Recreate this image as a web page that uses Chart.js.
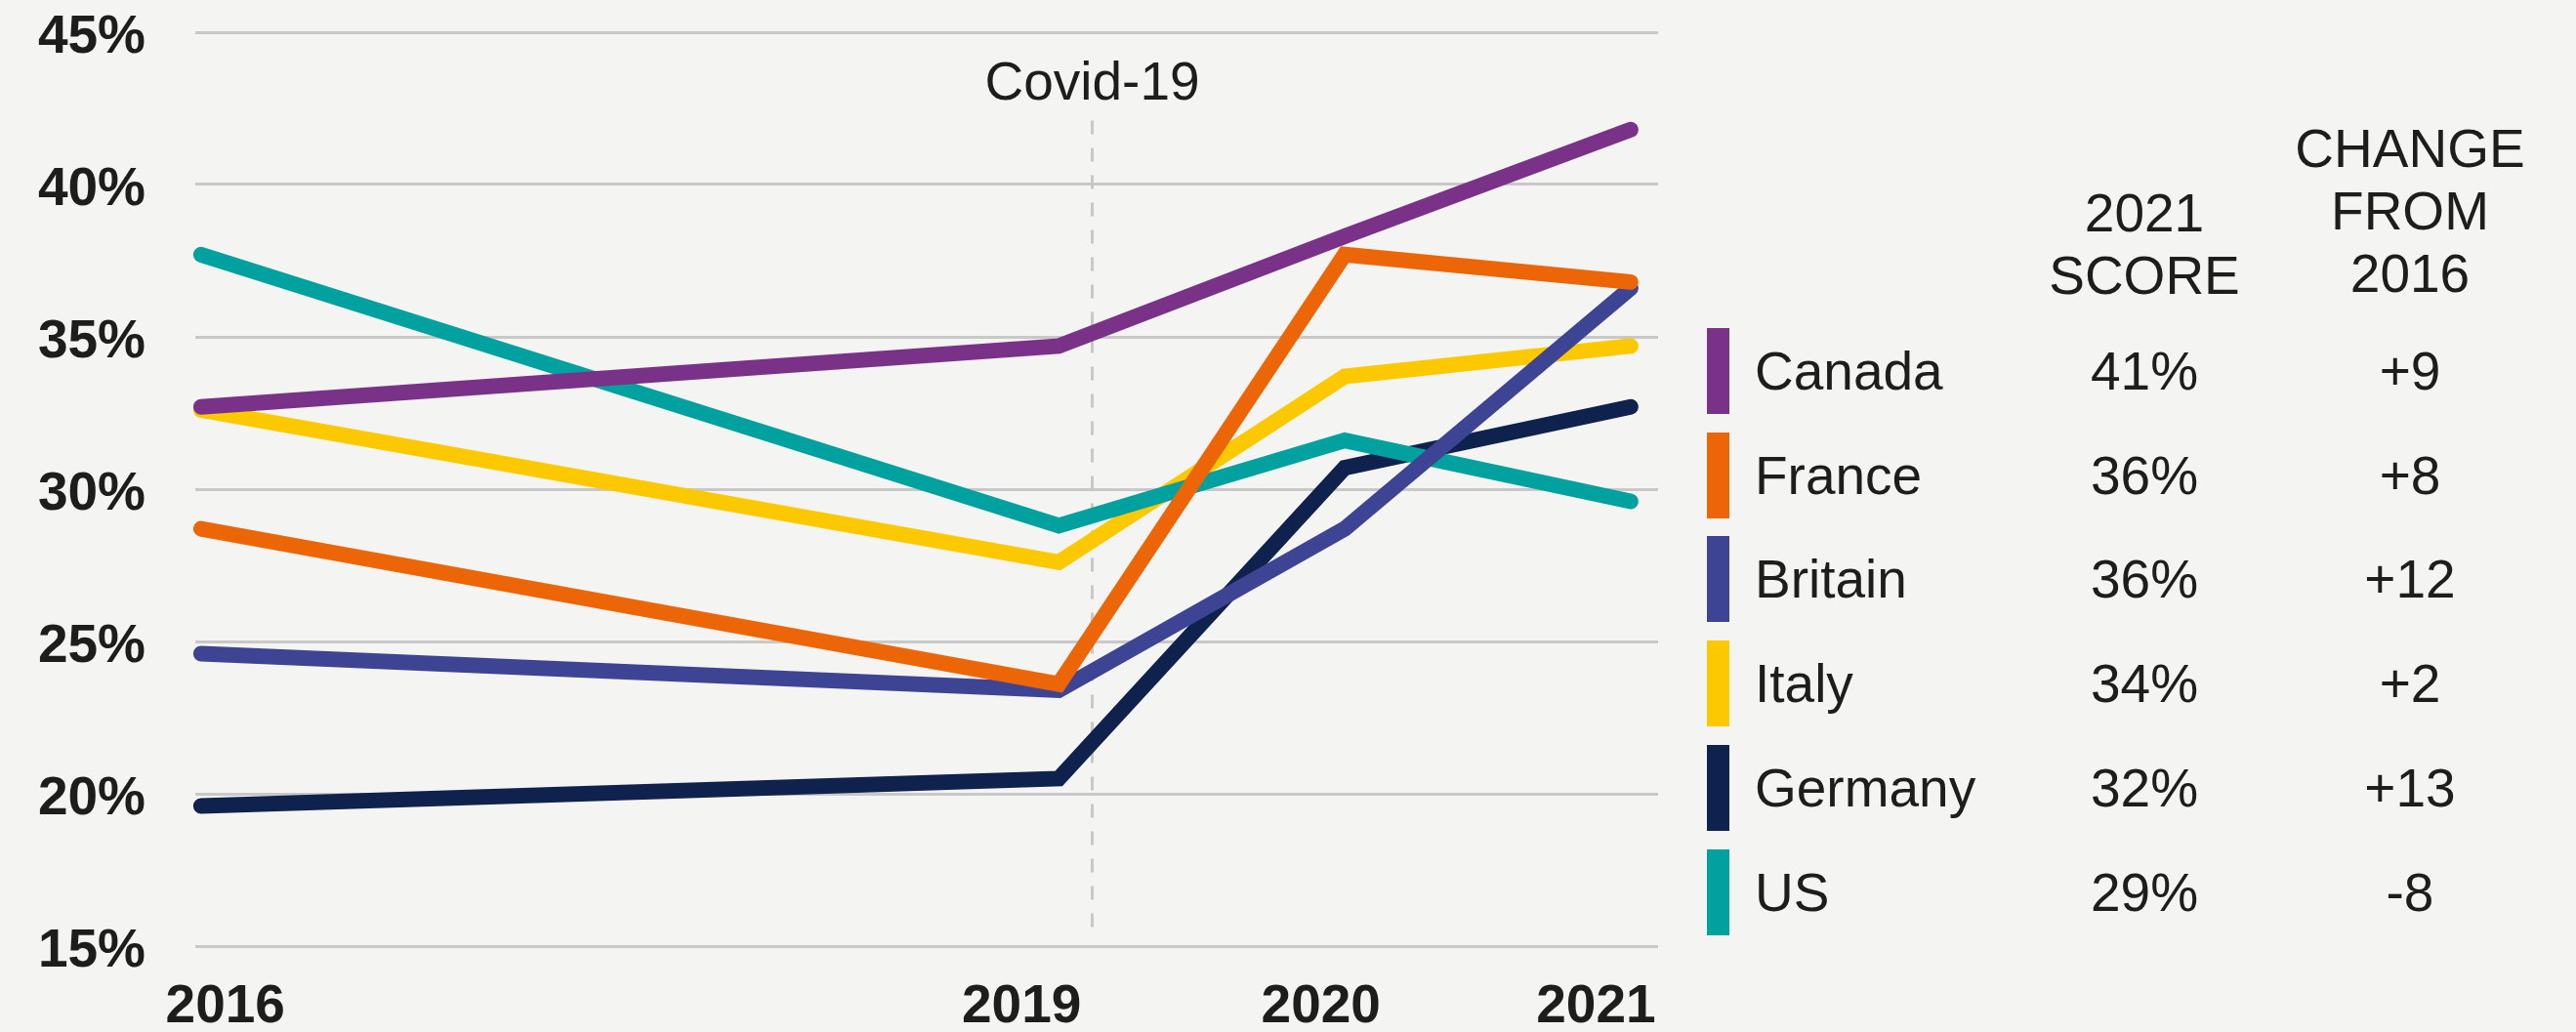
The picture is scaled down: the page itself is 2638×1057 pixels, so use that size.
<!DOCTYPE html>
<html>
<head>
<meta charset="utf-8">
<script src="https://cdn.jsdelivr.net/npm/chart.js@4.4.1/dist/chart.umd.min.js"></script>
<style>
  html, body { margin: 0; padding: 0; background: #F4F4F2; }
  #wrap { position: relative; width: 2638px; height: 1057px; overflow: hidden; font-family: "Liberation Sans", Arial, Helvetica, sans-serif; color: #1d1d1b; }
  canvas { position: absolute; left: 0; top: 0; }
  .hdr { position: absolute; width: 420px; text-align: center; font-size: 55px; line-height: 64px; }
  .bar { position: absolute; width: 23px; height: 88px; }
  .cell { position: absolute; height: 88px; line-height: 88px; font-size: 55px; white-space: nowrap; }
  .ctr { width: 420px; text-align: center; }
</style>
</head>
<body>
<div id="wrap">
  <canvas id="c" width="2638" height="1057"></canvas>
</div>
<script>
// ---- data ----
const years = [2016, 2019, 2020, 2021];
const countries = ["Canada", "France", "Britain", "Italy", "Germany", "US"];
const canada  = [32.7, 34.7, 38.3, 41.8];
const france  = [28.7, 23.6, 37.7, 36.8];
const britain = [24.6, 23.4, 28.7, 36.6];
const italy   = [32.6, 27.6, 33.7, 34.7];
const germany = [19.6, 20.5, 30.7, 32.7];
const us      = [37.7, 28.8, 31.6, 29.6];
const score2021 = [41, 36, 36, 34, 32, 29];
const change2016 = [9, 8, 12, 2, 13, -8];
const xTickLabels = ["2016", "2019", "2020", "2021"];
const yTickValues = [15, 20, 25, 30, 35, 40, 45];
const covidLabel = "Covid-19";

// ---- styles / placement ----
const colors = ["#7A3289", "#EC6608", "#3D4493", "#FCC900", "#0F214D", "#00A19F"];
const drawOrder = [0, 1, 2, 4, 5, 3]; // lower = on top
const xTickPlacement = [2016.085, 2018.87, 2019.917, 2020.879];
const covidX = 2019.115;
const FONT = '"Liberation Sans", Arial, Helvetica, sans-serif';
const TEXT = "#1d1d1b";

const seriesList = [canada, france, britain, italy, germany, us];

const datasets = seriesList.map((vals, i) => ({
  label: countries[i],
  data: years.map((y, j) => ({ x: y, y: vals[j] })),
  borderColor: colors[i],
  backgroundColor: colors[i],
  borderWidth: 16,
  borderCapStyle: "round",
  borderJoinStyle: "miter",
  pointRadius: 0,
  tension: 0,
  fill: false,
  clip: false,
  order: drawOrder[i]
}));

const covidPlugin = {
  id: "covid",
  beforeDatasetsDraw(chart) {
    const { ctx, scales: { x, y } } = chart;
    const px = Math.round(x.getPixelForValue(covidX)) + 0.5;
    ctx.save();
    ctx.strokeStyle = "#C8C8C8";
    ctx.lineWidth = 3;
    ctx.setLineDash([14, 14]);
    ctx.beginPath();
    ctx.moveTo(px, y.getPixelForValue(42.1));
    ctx.lineTo(px, y.getPixelForValue(15.4));
    ctx.stroke();
    ctx.setLineDash([]);
    ctx.fillStyle = TEXT;
    ctx.font = "55px " + FONT;
    ctx.textAlign = "center";
    ctx.textBaseline = "alphabetic";
    ctx.fillText(covidLabel, px, y.getPixelForValue(42.8));
    ctx.restore();
  }
};

new Chart(document.getElementById("c"), {
  type: "line",
  data: { datasets },
  options: {
    responsive: false,
    animation: false,
    devicePixelRatio: 1,
    layout: { padding: { top: 33, right: 940, bottom: 0, left: 0 } },
    plugins: { legend: { display: false }, tooltip: { enabled: false } },
    scales: {
      x: {
        type: "linear",
        min: 2015.98,
        max: 2021.096,
        afterBuildTicks: (s) => { s.ticks = xTickPlacement.map(v => ({ value: v })); },
        afterFit: (s) => { s.height = 88; s.paddingLeft = 0; s.paddingRight = 0; },
        grid: { display: false, drawTicks: false },
        border: { display: false },
        ticks: {
          autoSkip: false, maxRotation: 0, minRotation: 0,
          padding: 30,
          color: TEXT,
          font: { family: FONT, size: 55, weight: "bold" },
          callback: (v, i) => xTickLabels[i]
        }
      },
      y: {
        min: 15,
        max: 45,
        afterBuildTicks: (s) => { s.ticks = yTickValues.map(v => ({ value: v })); },
        afterFit: (s) => { s.width = 200; s.paddingTop = 0; s.paddingBottom = 0; },
        grid: { color: "#C8C8C8", lineWidth: 3, drawTicks: false },
        border: { display: false },
        ticks: {
          padding: 51,
          labelOffset: 6,
          color: TEXT,
          font: { family: FONT, size: 55, weight: "bold" },
          callback: (v) => v + "%"
        }
      }
    }
  },
  plugins: [covidPlugin]
});

// ---- side table ----
const wrap = document.getElementById("wrap");
function add(cls, text, style) {
  const d = document.createElement("div");
  d.className = cls;
  if (text !== null) d.innerHTML = text;
  Object.assign(d.style, style);
  wrap.appendChild(d);
  return d;
}
add("hdr", "2021<br>SCORE", { left: (2196 - 210) + "px", top: "186px" });
add("hdr", "CHANGE<br>FROM<br>2016", { left: (2468 - 210) + "px", top: "120px" });
countries.forEach((name, i) => {
  const top = 336 + i * 106.7;
  add("bar", null, { left: "1748px", top: top + "px", background: colors[i] });
  add("cell", name, { left: "1797px", top: top + "px" });
  add("cell ctr", score2021[i] + "%", { left: (2196 - 210) + "px", top: top + "px" });
  const c = change2016[i];
  add("cell ctr", (c > 0 ? "+" : "") + c, { left: (2468 - 210) + "px", top: top + "px" });
});
</script>
</body>
</html>
